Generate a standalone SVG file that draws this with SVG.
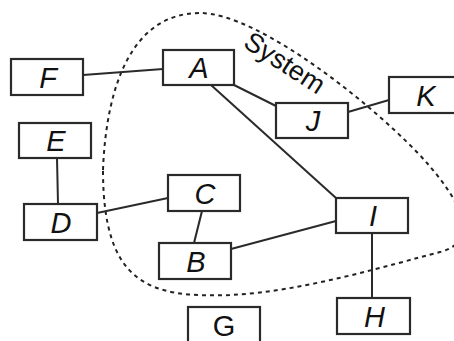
<svg xmlns="http://www.w3.org/2000/svg" width="454" height="341" viewBox="0 0 454 341">
  <style>
    .box { fill: #fff; stroke: #2a2a2a; stroke-width: 2.2; }
    .lbl { font-family: "Liberation Sans", Arial, sans-serif; font-size: 29px; font-style: italic; fill: #111; text-anchor: middle; }
    .up { font-style: normal; }
    .edge { stroke: #2a2a2a; stroke-width: 2; fill: none; }
    .boundary { fill: none; stroke: #222; stroke-width: 2; stroke-dasharray: 4 4; }
  </style>
  <rect width="454" height="341" fill="#fff"/>

  <!-- system boundary -->
  <g id="system">
    <path class="boundary" d="M103,170 C106,90 130,13 200,13 C260,13 380,110 427,163 C455,195 485,240 440,252 C390,265 300,292 230,295 C150,298 103,285 103,170 Z"/>
    <text class="lbl up" style="text-anchor:start;font-size:27px" transform="translate(242,46) rotate(33)">System</text>
  </g>

  <!-- connectors -->
  <g id="connectors">
    <line class="edge" x1="83" y1="75" x2="163" y2="69"/>
    <line class="edge" x1="234" y1="85" x2="276" y2="106"/>
    <line class="edge" x1="348" y1="112" x2="389" y2="100"/>
    <line class="edge" x1="211" y1="85" x2="336" y2="198"/>
    <line class="edge" x1="57" y1="158" x2="58" y2="204"/>
    <line class="edge" x1="97" y1="213" x2="168" y2="198"/>
    <line class="edge" x1="202" y1="211" x2="194" y2="243"/>
    <line class="edge" x1="231" y1="249" x2="336" y2="221"/>
    <line class="edge" x1="372" y1="233" x2="372" y2="298"/>
  </g>

  <!-- nodes -->
  <g id="node-F"><rect class="box" x="11" y="59" width="72" height="36"/><text class="lbl" x="48" y="87.5">F</text></g>
  <g id="node-A"><rect class="box" x="163" y="50" width="71" height="35"/><text class="lbl" x="199" y="78">A</text></g>
  <g id="node-E"><rect class="box" x="19" y="123" width="72" height="35"/><text class="lbl" x="56" y="151">E</text></g>
  <g id="node-D"><rect class="box" x="24" y="204" width="73" height="36"/><text class="lbl" x="61" y="232.5">D</text></g>
  <g id="node-C"><rect class="box" x="168" y="175" width="72" height="36"/><text class="lbl" x="205" y="203.5">C</text></g>
  <g id="node-B"><rect class="box" x="159" y="243" width="72" height="36"/><text class="lbl" x="196" y="271.5">B</text></g>
  <g id="node-G"><rect class="box" x="188" y="307" width="72" height="36"/><text class="lbl up" x="224" y="335.5">G</text></g>
  <g id="node-J"><rect class="box" x="276" y="103" width="72" height="35"/><text class="lbl" x="313" y="131">J</text></g>
  <g id="node-K"><rect class="box" x="389" y="77" width="72" height="36"/><text class="lbl" x="426" y="105.5">K</text></g>
  <g id="node-I"><rect class="box" x="336" y="198" width="72" height="35"/><text class="lbl" x="373" y="226">I</text></g>
  <g id="node-H"><rect class="box" x="337" y="298" width="73" height="36"/><text class="lbl" x="374.5" y="326.5">H</text></g>
</svg>
